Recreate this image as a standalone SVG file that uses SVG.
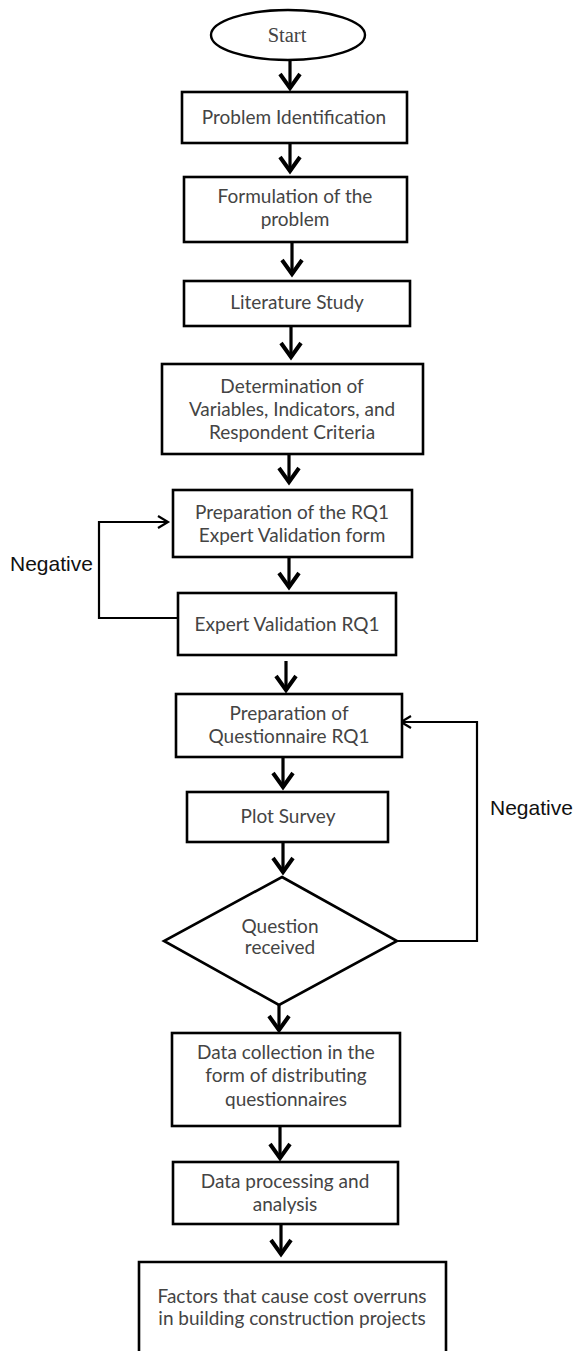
<svg xmlns="http://www.w3.org/2000/svg" width="573" height="1351" viewBox="0 0 573 1351">
<style>
.box{fill:#fff;stroke:#000;stroke-width:2.6}
.t{font-family:Lato,"Open Sans",sans-serif;font-size:19px;fill:#444;text-anchor:middle}
.lbl{font-family:"Liberation Sans",Arial,sans-serif;font-size:21px;fill:#111}
.arr{fill:none;stroke:#000;stroke-width:3.2;marker-end:url(#ah)}
.fba{fill:none;stroke:#000;stroke-width:2.2;marker-end:url(#ah2)}
</style>
<defs>
<marker id="ah" markerUnits="userSpaceOnUse" viewBox="-20 -15 25 30" refX="1" refY="0" markerWidth="25" markerHeight="30" orient="auto" overflow="visible">
<path d="M-14,-10 L0,0 L-14,10" fill="none" stroke="#000" stroke-width="4" stroke-linejoin="miter"/>
</marker>
<marker id="ah2" markerUnits="userSpaceOnUse" viewBox="-20 -15 25 30" refX="0" refY="0" markerWidth="25" markerHeight="30" orient="auto" overflow="visible">
<path d="M-10,-6 L0,0 L-10,6" fill="none" stroke="#000" stroke-width="2.2"/>
</marker>
</defs>
<rect width="573" height="1351" fill="#fff"/>
<g id="connectors">
<line class="arr" x1="290" y1="61" x2="290" y2="89"/>
<line class="arr" x1="290" y1="143" x2="290" y2="172"/>
<line class="arr" x1="292" y1="242" x2="292" y2="275"/>
<line class="arr" x1="291" y1="326" x2="291" y2="358"/>
<line class="arr" x1="289" y1="454" x2="289" y2="483"/>
<line class="arr" x1="289" y1="557" x2="289" y2="588"/>
<line class="arr" x1="286" y1="661" x2="286" y2="691"/>
<line class="arr" x1="283" y1="757" x2="283" y2="788"/>
<line class="arr" x1="283" y1="842" x2="283" y2="873"/>
<line class="arr" x1="279" y1="1005" x2="279" y2="1031"/>
<line class="arr" x1="280" y1="1126" x2="280" y2="1159"/>
<line class="arr" x1="281" y1="1224" x2="281" y2="1255"/>
<polyline class="fba" points="178,618 99,618 99,522 168,522"/>
<polyline class="fba" points="397,941 477,941 477,722 401,722"/>
<text class="lbl" x="10" y="571">Negative</text>
<text class="lbl" x="490" y="815">Negative</text>
</g>
<g id="start">
<ellipse cx="288" cy="35" rx="77" ry="25" fill="#fff" stroke="#000" stroke-width="2.4"/>
<text x="287" y="42" font-family="'Liberation Serif',serif" font-size="20.5" fill="#444" text-anchor="middle">Start</text>
</g>
<g id="problem-identification">
<rect class="box" x="182" y="92" width="225" height="51"/>
<text class="t" x="294" y="124">Problem Identification</text>
</g>
<g id="formulation">
<rect class="box" x="184" y="177" width="223" height="65"/>
<text class="t" x="295" y="203">Formulation of the</text>
<text class="t" x="295" y="226">problem</text>
</g>
<g id="literature">
<rect class="box" x="184" y="281" width="226" height="45"/>
<text class="t" x="297" y="309">Literature Study</text>
</g>
<g id="determination">
<rect class="box" x="162" y="364" width="261" height="90"/>
<text class="t" x="292" y="393">Determination of</text>
<text class="t" x="292" y="416">Variables, Indicators, and</text>
<text class="t" x="292" y="439">Respondent Criteria</text>
</g>
<g id="prep-validation">
<rect class="box" x="173" y="490" width="239" height="67"/>
<text class="t" x="292" y="519">Preparation of the RQ1</text>
<text class="t" x="292" y="542">Expert Validation form</text>
</g>
<g id="expert-validation">
<rect class="box" x="178" y="593" width="218" height="62"/>
<text class="t" x="287" y="631">Expert Validation RQ1</text>
</g>
<g id="prep-questionnaire">
<rect class="box" x="176" y="694" width="226" height="63"/>
<text class="t" x="289" y="720">Preparation of</text>
<text class="t" x="289" y="743">Questionnaire RQ1</text>
</g>
<g id="plot-survey">
<rect class="box" x="187" y="792" width="201" height="50"/>
<text class="t" x="288" y="823">Plot Survey</text>
</g>
<g id="question-received">
<polygon points="282,877 397,941 279,1005 164,941" fill="#fff" stroke="#000" stroke-width="2.6"/>
<text class="t" x="280" y="933" font-size="15">Question</text>
<text class="t" x="280" y="954" font-size="15">received</text>
</g>
<g id="data-collection">
<rect class="box" x="172" y="1033" width="228" height="93"/>
<text class="t" x="286" y="1059">Data collection in the</text>
<text class="t" x="286" y="1082">form of distributing</text>
<text class="t" x="286" y="1106">questionnaires</text>
</g>
<g id="data-processing">
<rect class="box" x="173" y="1162" width="225" height="62"/>
<text class="t" x="285" y="1188">Data processing and</text>
<text class="t" x="285" y="1211">analysis</text>
</g>
<g id="factors">
<path d="M139,1360 L139,1262 L446,1262 L446,1360" fill="#fff" stroke="#000" stroke-width="2.6"/>
<text class="t" x="292" y="1303">Factors that cause cost overruns</text>
<text class="t" x="292" y="1325">in building construction projects</text>
</g>
</svg>
